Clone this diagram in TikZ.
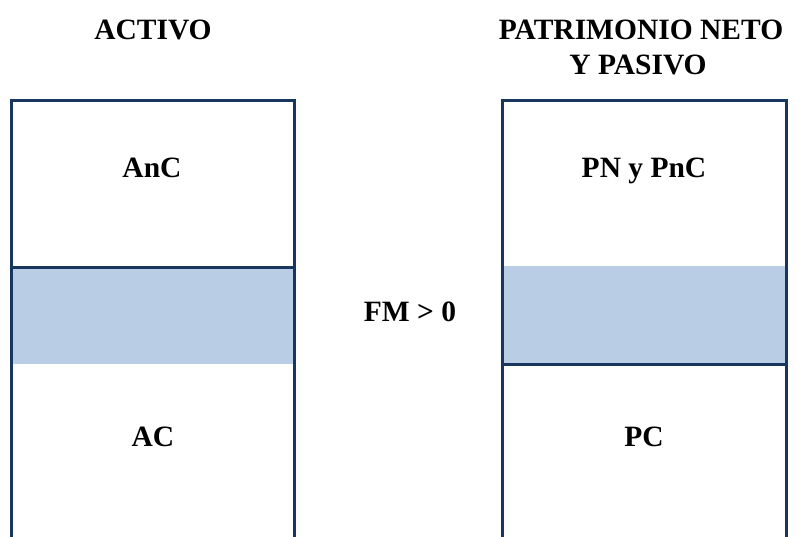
\documentclass[tikz,border=0pt]{standalone}
\usepackage{fontspec}
\setmainfont{Liberation Serif}
\definecolor{bordeazul}{RGB}{23,55,94}
\definecolor{fondoazul}{RGB}{185,205,229}
\tikzset{
  linea/.style={draw=bordeazul, line width=3pt},
  franja/.style={fill=fondoazul},
  rotulo/.style={font=\fontsize{29.5}{35}\selectfont\bfseries, inner sep=0pt, anchor=base},
}

\begin{document}
\begin{tikzpicture}[x=1pt,y=-1pt]
    \useasboundingbox (0,0) rectangle (805,537);

    \coordinate (A1) at (11.5,537);
    \coordinate (A2) at (11.5,101);
    \coordinate (A3) at (294.5,101);
    \coordinate (A4) at (294.5,537);
    \coordinate (A5) at (11.5,267.3);
    \coordinate (A6) at (294.5,364);

    \coordinate (P1) at (502.7,537);
    \coordinate (P2) at (502.7,101);
    \coordinate (P3) at (786,101);
    \coordinate (P4) at (786,537);
    \coordinate (P5) at (502.7,266);
    \coordinate (P6) at (786,364.7);

    \fill[franja] (A5) rectangle (A6);
    \fill[franja] (P5) rectangle (P6);

    \draw[linea] (A1) -- (A2) -- (A3) -- (A4);
    \draw[linea] (A5) -- (A5 -| A4);
    \draw[linea] (P1) -- (P2) -- (P3) -- (P4);
    \draw[linea] (P6 -| P1) -- (P6);

    \node[rotulo] (activo) at (153,40) {ACTIVO};
    \node[rotulo] (pnp1) at (641,40) {PATRIMONIO NETO};
    \node[rotulo] (pnp2) at (638,75) {Y PASIVO};

    \node[rotulo] (anc) at (152,178) {AnC};
    \node[rotulo] (pnpnc) at (644,178) {PN y PnC};
    \node[rotulo] (fm) at (410,321.7) {FM > 0};
    \node[rotulo] (ac) at (153,446.7) {AC};
    \node[rotulo] (pc) at (644,446.7) {PC};
\end{tikzpicture}
\end{document}
